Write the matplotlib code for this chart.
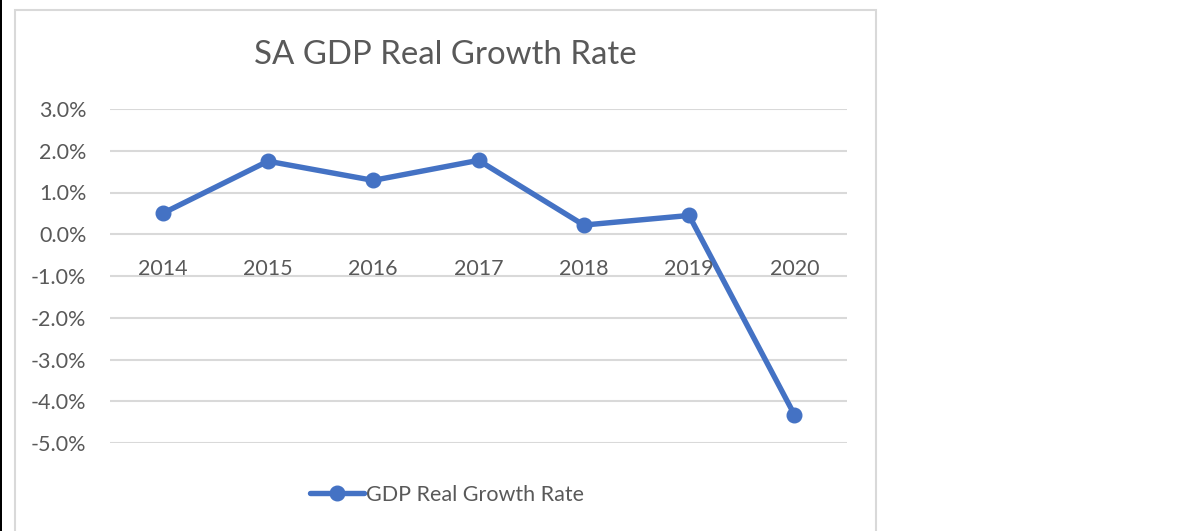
import matplotlib
matplotlib.use("Agg")
import matplotlib.pyplot as plt
from matplotlib.patches import Rectangle
from matplotlib.ticker import FuncFormatter, MultipleLocator

years = ["2014", "2015", "2016", "2017", "2018", "2019", "2020"]
growth = [0.50, 1.75, 1.29, 1.77, 0.22, 0.45, -4.32]
series_name = "GDP Real Growth Rate"
title = "SA GDP Real Growth Rate"

W, H = 1203, 531
fig = plt.figure(figsize=(W / 100, H / 100), dpi=100)
plt.rcParams["font.family"] = ["Lato", "DejaVu Sans"]

text_color = "#595959"
grid_color = "#d9d9d9"
blue = "#4472C4"
label_size = 15.5

# outer chart frame and dark edge on the left
fig.patches.append(Rectangle((0, 0), 2 / W, 1, transform=fig.transFigure,
                             facecolor="black", edgecolor="none"))
fig.patches.append(Rectangle((15 / W, -0.05), (876 - 15) / W, 1.05 - 10 / H,
                             transform=fig.transFigure, facecolor="none",
                             edgecolor=grid_color, linewidth=1.5))

# plot area: gridlines from 3% (y=109) to -5% (y=443)
ax_left, ax_right = 110 / W, 847 / W
y_top, y_bot = 109, 443
ax = fig.add_axes([ax_left, 1 - y_bot / H, ax_right - ax_left, (y_bot - y_top) / H])
ax.set_xlim(-0.5, len(years) - 0.5)
ax.set_ylim(-5, 3)
ax.yaxis.set_major_locator(MultipleLocator(1))
ax.yaxis.set_major_formatter(FuncFormatter(lambda v, p: f"{v:.1f}%"))
ax.grid(axis="y", color=grid_color, linewidth=1.5)
ax.set_axisbelow(True)
for s in ax.spines.values():
    s.set_visible(False)
ax.tick_params(axis="y", length=0, pad=17, labelsize=label_size, labelcolor=text_color)
ax.set_xticks([])

x = list(range(len(years)))
ax.plot(x, growth, color=blue, linewidth=3.9, marker="o", markersize=10.5,
        solid_capstyle="round", label=series_name, zorder=3, clip_on=False)

# category labels sit just beneath the zero line
for xi, lab in zip(x, years):
    ax.annotate(lab, (xi, 0), xytext=(0, -17.5), textcoords="offset points",
                ha="center", va="top", fontsize=label_size, color=text_color)

fig.text(445.5 / W, 1 - 55 / H, title, ha="center", va="center",
         fontsize=23.8, color=text_color)

leg = fig.legend(loc="center", bbox_to_anchor=(447 / W, 1 - 495 / H),
                 frameon=False, fontsize=label_size, handlelength=2.5,
                 handletextpad=0.1, labelcolor=text_color)

fig.savefig("out.png", dpi=100, facecolor="white")
